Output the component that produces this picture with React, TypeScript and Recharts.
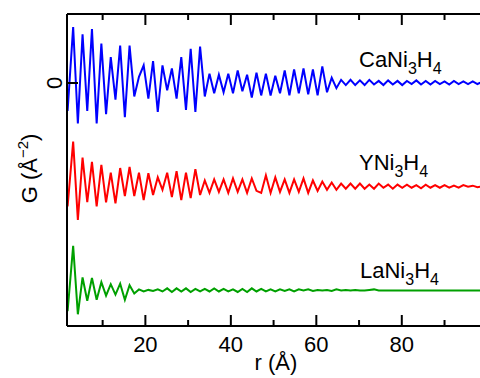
import React from 'react';
import { LineChart, Line, XAxis, YAxis, Customized } from 'recharts';

// r grid (Å)
const rValues = [
  1.8, 3.1, 4.2, 5.3, 6.4, 7.5, 8.6, 9.7, 10.8, 11.9,
  13.0, 14.1, 15.2, 16.3, 17.4, 18.5, 19.6, 20.7, 21.8, 22.9,
  24.0, 25.1, 26.2, 27.3, 28.4, 29.5, 30.6, 31.7, 32.8, 33.9,
  35.0, 36.1, 37.2, 38.3, 39.4, 40.5, 41.6, 42.7, 43.8, 44.9,
  46.0, 47.1, 48.2, 49.3, 50.4, 51.5, 52.6, 53.7, 54.8, 55.9,
  57.0, 58.1, 59.2, 60.3, 61.4, 62.5, 63.6, 64.7, 65.8, 66.9,
  68.0, 69.1, 70.2, 71.3, 72.4, 73.5, 74.6, 75.7, 76.8, 77.9,
  79.0, 80.1, 81.2, 82.3, 83.4, 84.5, 85.6, 86.7, 87.8, 88.9,
  90.0, 91.1, 92.2, 93.3, 94.4, 95.5, 96.6, 97.7, 98.8,
];

// G(r) for CaNi3H4
const gCaNi3H4 = [
  -2.7, 5.4, -3.9, 4.7, -2.7, 5.2, -3.9, 3.8, -3.0, 2.5,
  -1.6, 3.6, -3.3, 3.6, -1.3, 0.6, 1.7, -1.5, 2.1, -2.8,
  1.7, -0.7, 1.4, -1.5, 2.5, -2.6, 3.3, -2.8, 3.5, -1.3,
  0.9, -1.0, 0.8, -0.9, 0.9, -1.0, 1.2, -0.8, 0.8, -1.4,
  1.0, -1.2, 0.9, -1.2, 0.7, -1.0, 1.2, -1.2, 1.3, -1.0,
  1.4, -1.1, 1.3, -1.2, 1.6, -0.9, 0.5, -0.5, 0.3, -0.2,
  0.3, -0.2, 0.25, -0.2, 0.3, -0.15, 0.2, -0.2, 0.25, -0.15,
  0.2, -0.2, 0.2, -0.1, 0.25, -0.15, 0.2, -0.15, 0.2, -0.1,
  0.15, -0.15, 0.2, -0.1, 0.15, -0.1, 0.15, -0.1, 0.1,
];

// G(r) for YNi3H4
const gYNi3H4 = [
  -1.9, 4.35, -3.2, 2.8, -1.5, 2.4, -1.9, 2.1, -1.5, 1.35,
  -1.6, 1.8, -0.9, 1.9, -0.9, 1.35, -1.3, 1.3, -0.8, 0.9,
  -0.3, 1.35, -1.0, 1.5, -1.3, 1.35, -1.1, 1.7, -0.8, 0.6,
  -0.6, 0.7, -0.5, 0.7, -0.6, 0.8, -0.5, 0.7, -0.6, 0.8,
  -0.4, -0.6, 1.1, -0.6, 0.9, -0.5, 0.7, -0.6, 0.7, -0.5,
  0.8, -0.6, 0.6, -0.4, 0.5, -0.3, 0.4, -0.3, 0.3, -0.2,
  0.3, -0.2, 0.3, -0.2, 0.2, -0.2, 0.3, -0.1, 0.2, -0.2,
  0.2, -0.1, 0.2, -0.1, 0.15, -0.15, 0.2, -0.1, 0.15, -0.1,
  0.15, -0.1, 0.1, -0.1, 0.15, 0.0, 0.1, -0.05, 0.05,
];

// G(r) for LaNi3H4
const gLaNi3H4 = [
  -2.0, 4.3, -2.3, 1.25, -1.0, 1.2, -0.9, 0.8, -0.5, 0.6,
  -0.4, 0.65, -0.9, 0.5, -0.3, 0.1, -0.1, 0.05, -0.05, 0.1,
  -0.1, 0.2, -0.15, 0.2, -0.1, 0.2, -0.15, 0.15, -0.1, 0.15,
  -0.1, 0.2, -0.1, 0.15, -0.1, 0.1, -0.15, 0.15, -0.15, 0.2,
  -0.1, 0.15, -0.1, 0.1, -0.1, 0.1, -0.05, 0.1, -0.1, 0.1,
  0.0, 0.1, -0.05, 0.05, 0.0, 0.05, -0.05, 0.1, 0.0, 0.05,
  0.0, 0.05, 0.0, 0.0, 0.05, 0.1, 0.0, 0.0, 0.0, 0.0,
  0.0, 0.0, 0.0, 0.0, 0.0, 0.0, 0.0, 0.0, 0.0, 0.0,
  0.0, 0.0, 0.0, 0.0, 0.0, 0.0, 0.0, 0.0, 0.0,
];

const seriesOffsets = [0, -10, -20];
const seriesNames = ['CaNi', 'YNi', 'LaNi'];
const seriesColors = ['#0000ff', '#ff0000', '#00a000'];
const xTicks = [10, 20, 30, 40, 50, 60, 70, 80, 90];
const xLabelTicks = [20, 40, 60, 80];
const yTicks = [0];

const data = rValues.map((r, i) => ({
  r,
  ca: gCaNi3H4[i] + seriesOffsets[0],
  y: gYNi3H4[i] + seriesOffsets[1],
  la: gLaNi3H4[i] + seriesOffsets[2],
}));

const FONT = 'Liberation Sans, Arial, Helvetica, sans-serif';

const BottomTick = (props: any) => {
  const { x, y, payload } = props;
  const major = xLabelTicks.includes(payload.value);
  return (
    <g>
      <line x1={x} x2={x} y1={y} y2={y - (major ? 11 : 6)} stroke="#000" strokeWidth={2} />
      {major && (
        <text x={x} y={y + 26} textAnchor="middle" fontSize={22} fontFamily={FONT} fill="#000">
          {payload.value}
        </text>
      )}
    </g>
  );
};

const TopTick = (props: any) => {
  const { x, y, payload } = props;
  const major = xLabelTicks.includes(payload.value);
  return <line x1={x} x2={x} y1={y} y2={y + (major ? 11 : 6)} stroke="#000" strokeWidth={2} />;
};

const LeftTick = (props: any) => {
  const { x, y, payload } = props;
  return (
    <g>
      <line x1={x} x2={x + 11} y1={y} y2={y} stroke="#000" strokeWidth={2} />
      <text
        x={x - 5}
        y={y}
        transform={`rotate(-90, ${x - 5}, ${y})`}
        textAnchor="middle"
        fontSize={22}
        fontFamily={FONT}
        fill="#000"
      >
        {payload.value}
      </text>
    </g>
  );
};

const SeriesLabels = () => {
  const pos = [
    { x: 359, y: 67 },
    { x: 359, y: 170 },
    { x: 360, y: 278 },
  ];
  return (
    <g fontFamily={FONT} fill="#000">
      {pos.map((p, i) => (
        <text key={i} x={p.x} y={p.y} fontSize={22}>
          {seriesNames[i]}
          <tspan fontSize={16} dy={7}>3</tspan>
          <tspan fontSize={22} dy={-7}>H</tspan>
          <tspan fontSize={16} dy={7}>4</tspan>
        </text>
      ))}
    </g>
  );
};

export default function App() {
  return (
    <div style={{ position: 'absolute', left: 0, top: 0, width: 480, height: 378 }}>
      <LineChart width={480} height={378} data={data} margin={{ top: 0, right: 0, bottom: 0, left: 0 }}>
        <XAxis
          xAxisId="top"
          orientation="top"
          dataKey="r"
          type="number"
          domain={[1.66, 98.3]}
          allowDataOverflow
          ticks={xTicks}
          interval={0}
          height={14}
          tickSize={0}
          tickMargin={0}
          tickLine={false}
          tick={<TopTick />}
          axisLine={{ stroke: '#000', strokeWidth: 2 }}
        />
        <XAxis
          xAxisId="bottom"
          orientation="bottom"
          dataKey="r"
          type="number"
          domain={[1.66, 98.3]}
          allowDataOverflow
          ticks={xTicks}
          interval={0}
          height={52}
          tickSize={0}
          tickMargin={0}
          tickLine={false}
          tick={<BottomTick />}
          axisLine={{ stroke: '#000', strokeWidth: 2 }}
          label={{
            content: () => (
              <text x={276} y={370} textAnchor="middle" fontSize={22} fontFamily={FONT} fill="#000">
                r (Å)
              </text>
            ),
          }}
        />
        <YAxis
          type="number"
          domain={[-23.43, 6.65]}
          allowDataOverflow
          ticks={yTicks}
          width={67}
          tickSize={0}
          tickMargin={0}
          tickLine={false}
          tick={<LeftTick />}
          axisLine={{ stroke: '#000', strokeWidth: 2 }}
          label={{
            content: () => (
              <text
                x={37}
                y={168.5}
                transform="rotate(-90, 37, 168.5)"
                textAnchor="middle"
                fontSize={22}
                fontFamily={FONT}
                fill="#000"
              >
                G (Å<tspan fontSize={15} dy={-9}>−2</tspan>
                <tspan dy={9}>)</tspan>
              </text>
            ),
          }}
        />
        <Line xAxisId="bottom" dataKey="ca" stroke={seriesColors[0]} strokeWidth={2} dot={false} type="linear" isAnimationActive={false} />
        <Line xAxisId="bottom" dataKey="y" stroke={seriesColors[1]} strokeWidth={2} dot={false} type="linear" isAnimationActive={false} />
        <Line xAxisId="bottom" dataKey="la" stroke={seriesColors[2]} strokeWidth={2} dot={false} type="linear" isAnimationActive={false} />
        <Customized component={SeriesLabels} />
      </LineChart>
    </div>
  );
}
